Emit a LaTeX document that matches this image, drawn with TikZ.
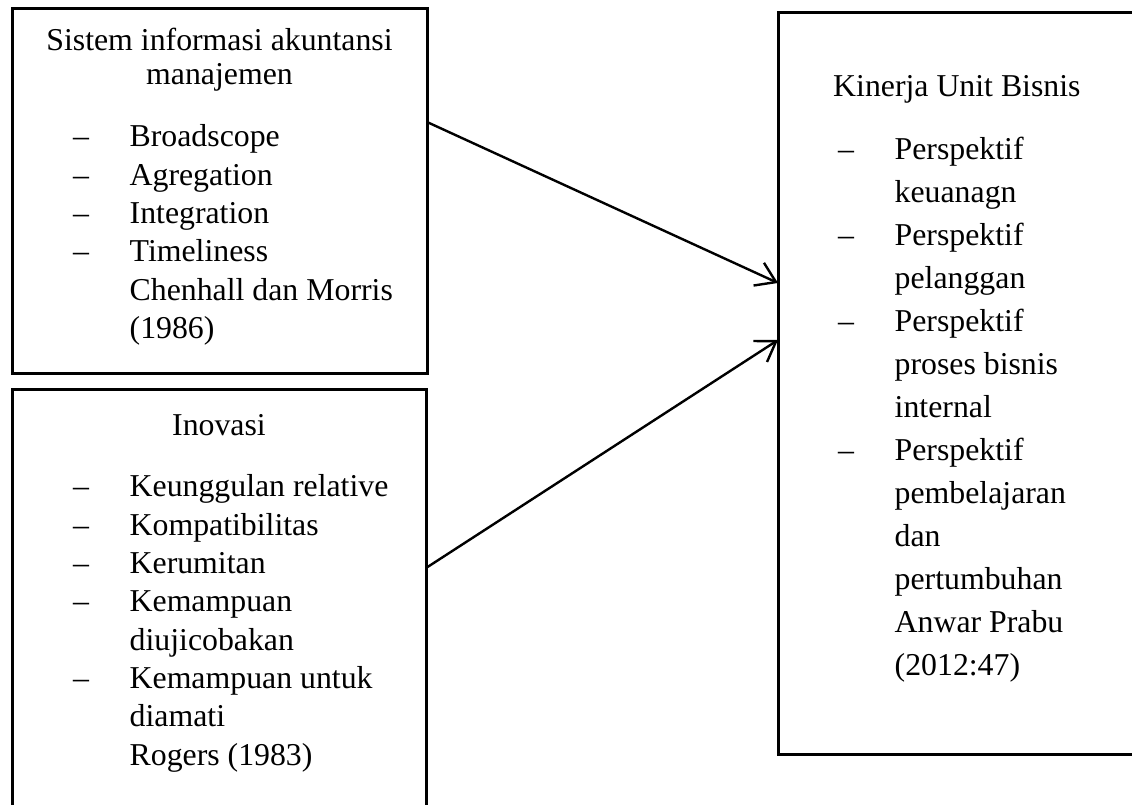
\documentclass[tikz,border=0pt]{standalone}
\usepackage{fontspec}
\setmainfont{Liberation Serif}
\usetikzlibrary{arrows.meta}

\newcommand{\itm}{\makebox[56.5pt][l]{\textendash}}
\newcommand{\noitm}{\hspace*{56.5pt}}

\tikzset{
  frame/.style = {shape=rectangle, draw, line width=3pt, inner sep=0pt, outer sep=0pt, anchor=north west},
  txt/.style = {inner sep=0pt, font=\fontsize{31.8pt}{38.3pt}\selectfont},
  link/.style = {-{Straight Barb[length=19pt,width=25pt]}, line width=2.4pt}
}

\begin{document}
\begin{tikzpicture}[x=1pt, y=-1pt]
\clip (0,0) rectangle (1132,805);
% kotak
\node[frame, minimum width=415pt, minimum height=364pt] (sia) at (12,9) {};
\node[frame, minimum width=414pt, minimum height=445pt] (ino) at (12,389) {};
\node[frame, minimum width=400pt, minimum height=741pt] (kub) at (778,13) {};

% isi kotak kiri atas
\node[txt, align=center, anchor=north, font=\fontsize{31.8pt}{34pt}\selectfont] (siaT) at (219.5,26.2)
  {\strut Sistem informasi akuntansi\\manajemen};
\node[txt, align=left, anchor=north west] (siaL) at (73,119.9)
  {\strut\itm Broadscope\\
   \itm Agregation\\
   \itm Integration\\
   \itm Timeliness\\
   \noitm Chenhall dan Morris\\
   \noitm (1986)};

% isi kotak kiri bawah
\node[txt, anchor=base] (inoT) at (219,435) {Inovasi};
\node[txt, align=left, anchor=north west] (inoL) at (73,469.9)
  {\strut\itm Keunggulan relative\\
   \itm Kompatibilitas\\
   \itm Kerumitan\\
   \itm Kemampuan\\
   \noitm diujicobakan\\
   \itm Kemampuan untuk\\
   \noitm diamati\\
   \noitm Rogers (1983)};

% isi kotak kanan
\node[txt, anchor=base west] (kubT) at (833,96.7) {Kinerja Unit Bisnis};
\node[txt, align=left, anchor=north west, font=\fontsize{31.8pt}{43pt}\selectfont] (kubL) at (838,128.9)
  {\strut\itm Perspektif\\
   \noitm keuanagn\\
   \itm Perspektif\\
   \noitm pelanggan\\
   \itm Perspektif\\
   \noitm proses bisnis\\
   \noitm internal\\
   \itm Perspektif\\
   \noitm pembelajaran\\
   \noitm dan\\
   \noitm pertumbuhan\\
   \noitm Anwar Prabu\\
   \noitm (2012:47)};

% panah
\draw[link] ([yshift=-113pt]sia.north east) -- ([yshift=-270pt]kub.north west);
\draw[link] ([yshift=-179pt]ino.north east) -- ([yshift=-327pt]kub.north west);
\end{tikzpicture}
\end{document}
